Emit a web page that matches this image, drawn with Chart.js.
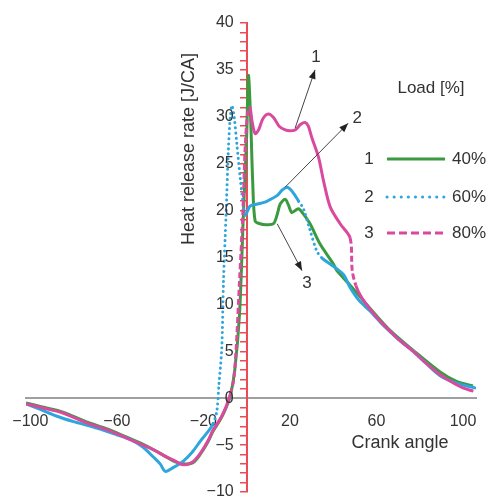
<!DOCTYPE html>
<html>
<head>
<meta charset="utf-8">
<script src="https://cdn.jsdelivr.net/npm/chart.js@4/dist/chart.umd.min.js"></script>
<style>
html,body{margin:0;padding:0;background:#fff;}
#wrap{width:492px;height:500px;position:relative;}
</style>
</head>
<body>
<div id="wrap"><canvas id="c" width="492" height="500"></canvas></div>
<script>
// ---- data (crank angle [deg], heat release rate [J/CA]) ----
const angle40 = [-102,-95,-86,-81.5,-72,-63,-56,-49,-43,-37.6,-33,-29.3,-25,-21.5,-18,-15.5,-13,-11.3,-9.5,-7.6,-5.5,-3.3,-1.5,0,0.8,1.8,2.8,3.9,6.2,9,12.4,14,15.5,17.8,19.3,20.9,23.9,26,29.3,34,40.1,41.7,48,54,60,66,77,89.4,97,104.6];
const hrr40   = [-0.5,-0.9,-1.4,-1.8,-2.7,-3.4,-4.1,-4.8,-5.5,-6.2,-6.8,-7.0,-6.9,-6.0,-4.7,-3.5,-2.6,-1.9,-1.0,0.2,3,9,19.7,28,34.4,30,23,18.9,18.6,18.5,18.6,19.5,20.7,21.2,20.6,19.8,20.2,19.7,18.6,16.4,14.3,13.6,12.0,10.4,8.8,7.3,5.1,2.8,1.8,1.3];

const angle60 = [-102,-95.4,-88,-80,-72,-67.7,-60,-53.8,-48,-43,-40,-37.6,-34,-29.3,-25,-21.5,-18,-15.5,-13.8,-12.8,-11.5,-10.7,-9.5,-8.4,-7.5,-6.8,-5.8,-4.5,-3.0,-1.5,-0.7,0.5,1.6,5,8.5,11,14,16.5,18.6,20.5,22.4,24,26.2,29.3,32.4,35,38.6,44.7,47.8,52,57,63,70,77,83,89.4,97,105.5];
const hrr60   = [-0.6,-1.2,-1.9,-2.5,-3.0,-3.3,-3.9,-4.4,-5.2,-6.3,-7.0,-7.8,-7.4,-6.7,-5.7,-4.6,-3.6,-2.7,-1.4,1.5,5.3,12.5,19.7,26.7,30.2,31.2,30.0,27,23.5,20.5,19.5,20.0,20.5,20.7,20.9,21.2,21.6,22.2,22.5,22.2,21.6,21,20.2,17.9,15.7,14.9,14.3,13.2,11.8,10.4,9.3,7.8,6.3,5.0,3.7,2.4,1.6,1.1];

const angle80 = [-102,-95,-86,-81.5,-72,-63,-56,-49,-43,-37.6,-33,-29.3,-25,-21.5,-18,-15.5,-13,-11.3,-9.5,-7.6,-6,-4.85,-3.3,-1.75,-0.7,0.5,1.5,2.5,3.9,5.5,7.5,10,12.5,15,17.8,20,22.4,25,27,28.5,30.1,33.2,35.5,38.6,43.2,47.8,48.8,50.5,53.2,57,61.7,66,70,77,83,89.4,95,100,104.8];
const hrr80   = [-0.6,-1.0,-1.5,-1.9,-2.8,-3.5,-4.2,-4.9,-5.5,-6.2,-6.7,-7.1,-6.8,-5.9,-4.6,-3.4,-2.5,-1.8,-0.9,0.4,2.0,5.3,12.5,19.7,26.7,30.5,31.0,29.5,28.2,28.6,29.8,30.3,29.9,29.0,28.6,28.5,28.6,29.2,29.4,29.0,27.8,25.7,23.2,20.4,18.6,17.1,13.6,12.0,10.7,9.5,8.2,7.2,6.3,5.0,3.7,2.5,1.7,1.1,0.75];

const xTickValues = [-100,-60,-20,20,60,100];
const yLabelStep  = 5;
const legendNums  = ['1','2','3'];
const loadLabels  = ['40%','60%','80%'];
const legendTitle = 'Load [%]';
const yTitle = 'Heat release rate [J/CA]';
const xTitle = 'Crank angle';
// arrows: from / to in data units, with label
const arrowFrom = [[22.4,28.8],[17.8,22.5],[14.1,18.6]];
const arrowTo   = [[31.6,35.0],[46.9,29.3],[25.6,13.6]];
const arrowText = ['1','2','3'];

const pts = (xs, ys) => xs.map((x,i)=>({x, y: ys[i]}));
const fmt = v => (v < 0 ? '\u2212' + Math.abs(v) : String(v));

const GREEN = '#3b9a3f', BLUE = '#2ea6dd', PINK = '#d94a9e', RED = '#ec4a55';
const FONT = "'Liberation Sans', Arial, Helvetica, sans-serif";

const inRange = (ctx, a, b) => ctx.p0.parsed.x >= a && ctx.p1.parsed.x <= b;

const datasets = [
  { label: loadLabels[0], data: pts(angle40, hrr40), borderColor: GREEN, borderWidth: 3, pointRadius: 0, tension: 0.3, order: 2, legendDash: [] },
  { label: loadLabels[1], data: pts(angle60, hrr60), borderColor: BLUE, borderWidth: 3, pointRadius: 0, tension: 0.3, order: 1, borderCapStyle: 'round',
    legendDash: [0.1, 7],
    segment: { borderDash: ctx => (inRange(ctx, -16, -0.7) || inRange(ctx, 24, 38)) ? [0.1, 5] : undefined } },
  { label: loadLabels[2], data: pts(angle80, hrr80), borderColor: PINK, borderWidth: 3, pointRadius: 0, tension: 0.3, order: 0,
    legendDash: [8, 4],
    segment: { borderDash: ctx => (inRange(ctx, -8, 1.5) || inRange(ctx, 47.8, 50.5)) ? [6, 3] : undefined } }
];

const decor = {
  id: 'decor',
  afterDraw(chart) {
    const ctx = chart.ctx, xs = chart.scales.x, ys = chart.scales.y;
    ctx.save();
    ctx.fillStyle = '#333';
    // y tick labels (left of the centred axis)
    const axisX = xs.getPixelForValue(0);
    ctx.font = '16px ' + FONT;
    ctx.textAlign = 'right'; ctx.textBaseline = 'middle';
    ys.ticks.forEach(t => {
      if (t.value % yLabelStep === 0) ctx.fillText(fmt(t.value), axisX - 13, ys.getPixelForValue(t.value));
    });
    // y title
    ctx.save();
    ctx.translate(189, 149);
    ctx.rotate(-Math.PI/2);
    ctx.font = '18px ' + FONT;
    ctx.textAlign = 'center'; ctx.textBaseline = 'middle';
    ctx.fillText(yTitle, 0, 0);
    ctx.restore();
    // x title
    ctx.font = '18px ' + FONT;
    ctx.textAlign = 'center'; ctx.textBaseline = 'middle';
    ctx.fillText(xTitle, 400, 443);
    // legend
    ctx.font = '17px ' + FONT;
    ctx.fillText(legendTitle, 431, 88);
    const rowsY = [159, 197, 233];
    chart.data.datasets.forEach((ds, i) => {
      const y = rowsY[i];
      ctx.fillStyle = '#333';
      ctx.textAlign = 'center';
      ctx.fillText(legendNums[i], 369, y);
      ctx.textAlign = 'left';
      ctx.fillText(ds.label, 452, y);
      ctx.save();
      ctx.strokeStyle = ds.borderColor;
      ctx.lineWidth = 3;
      ctx.lineCap = i === 1 ? 'round' : 'butt';
      ctx.setLineDash(ds.legendDash);
      ctx.beginPath(); ctx.moveTo(387, y); ctx.lineTo(445, y); ctx.stroke();
      ctx.restore();
    });
    // arrows
    ctx.strokeStyle = '#444'; ctx.fillStyle = '#222'; ctx.lineWidth = 1;
    arrowFrom.forEach((f, i) => {
      const x1 = xs.getPixelForValue(f[0]), y1 = ys.getPixelForValue(f[1]);
      const x2 = xs.getPixelForValue(arrowTo[i][0]), y2 = ys.getPixelForValue(arrowTo[i][1]);
      ctx.beginPath(); ctx.moveTo(x1, y1); ctx.lineTo(x2, y2); ctx.stroke();
      const a = Math.atan2(y2 - y1, x2 - x1), L = 9, W = 3.5;
      ctx.beginPath();
      ctx.moveTo(x2, y2);
      ctx.lineTo(x2 - L*Math.cos(a) + W*Math.sin(a), y2 - L*Math.sin(a) - W*Math.cos(a));
      ctx.lineTo(x2 - L*Math.cos(a) - W*Math.sin(a), y2 - L*Math.sin(a) + W*Math.cos(a));
      ctx.closePath(); ctx.fill();
    });
    ctx.fillStyle = '#333';
    ctx.font = '17px ' + FONT; ctx.textAlign = 'center'; ctx.textBaseline = 'middle';
    const labOff = [[1,-13],[9,-5],[5,13]];
    arrowText.forEach((t, i) => {
      const x2 = xs.getPixelForValue(arrowTo[i][0]), y2 = ys.getPixelForValue(arrowTo[i][1]);
      ctx.fillText(t, x2 + labOff[i][0], y2 + labOff[i][1]);
    });
    ctx.restore();
  }
};

new Chart(document.getElementById('c'), {
  type: 'line',
  data: { datasets },
  options: {
    responsive: false,
    animation: false,
    layout: { padding: { left: 26, right: 16, top: 23, bottom: 8 } },
    plugins: { legend: { display: false }, tooltip: { enabled: false } },
    scales: {
      x: {
        type: 'linear', min: -102, max: 106,
        position: { y: 0 },
        border: { color: '#a0a0a0', width: 2 },
        grid: { display: false },
        afterBuildTicks: s => { s.ticks = xTickValues.map(v => ({ value: v })); },
        ticks: { autoSkip: false, maxRotation: 0, padding: 6, color: '#333', font: { family: FONT, size: 16 },
                 callback: v => fmt(v) }
      },
      y: {
        type: 'linear', min: -10, max: 40,
        position: { x: 0 },
        border: { color: RED, width: 2 },
        grid: { drawOnChartArea: false, color: RED, lineWidth: 1.5, tickLength: 6 },
        ticks: { stepSize: 1, autoSkip: false, color: '#333', font: { family: FONT, size: 1 }, padding: 0,
                 callback: () => '' }
      }
    }
  },
  plugins: [decor]
});
</script>
</body>
</html>
